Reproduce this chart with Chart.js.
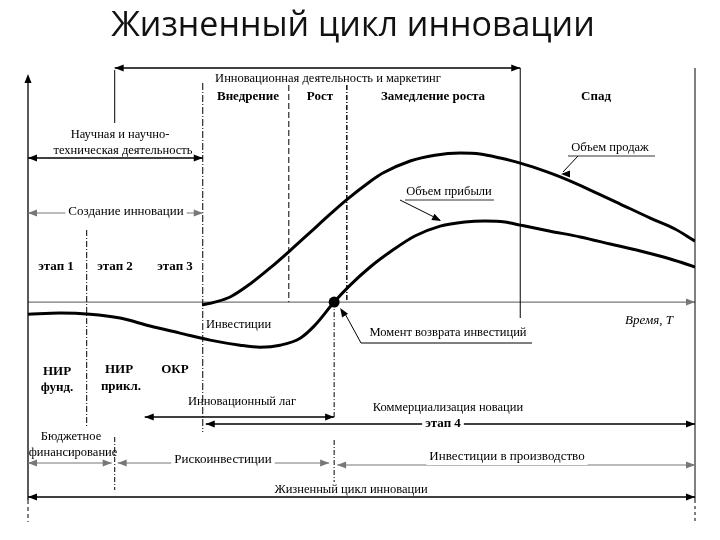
<!DOCTYPE html>
<html>
<head>
<meta charset="utf-8">
<script src="https://cdn.jsdelivr.net/npm/chart.js@4.4.1/dist/chart.umd.min.js"></script>
<style>
  html, body { margin: 0; padding: 0; background: #fff; }
  canvas { display: block; }
</style>
</head>
<body>
<canvas id="lifeCycle" width="720" height="540"></canvas>
<script>
// --- Data (time in % of the cycle, values in relative units, 0 = time axis) ---
const salesTime   = [26.1, 28.0, 30.3, 33.3, 36.3, 39.3, 42.3, 45.3, 47.8, 51.3, 53.2, 57.3, 61.0, 64.8, 67.8, 70.8, 73.8, 77.5, 79.8, 84.3, 88.8, 93.3, 97.0, 100];
const salesValue  = [-1.2, 0, 2.1, 7.5, 14.1, 21.3, 28.8, 36.3, 42.3, 49.8, 53.3, 58.3, 60.7, 61.6, 61.2, 59.5, 57.4, 54.1, 51.7, 46.3, 40.5, 34.7, 30.2, 25.2];
const profitTime  = [0, 4.8, 9.3, 13.8, 18.3, 22.8, 27.3, 31.8, 34.8, 37.8, 40.8, 43.0, 45.9, 48.3, 51.3, 54.7, 58.0, 61.8, 65.5, 68.5, 71.5, 73.8, 78.3, 82.8, 87.3, 91.8, 96.3, 100];
const profitValue = [-5.0, -4.5, -5.0, -6.6, -9.9, -12.8, -15.7, -17.8, -18.6, -17.8, -14.9, -9.6, 0, 7.0, 14.5, 21.5, 27.3, 31.4, 33.1, 33.5, 33.1, 31.8, 29.3, 26.9, 24.0, 21.1, 17.8, 14.5];

// stage boundaries on the time axis
const stageNames  = ['этап 1', 'этап 2', 'этап 3'];
const phaseNames  = ['Внедрение', 'Рост', 'Замедление роста', 'Спад'];
const bounds = { start: 0, st1: 8.8, mkt: 13.0, lag: 17.5, launch: 26.2, growth: 39.1, slow: 47.8, decline: 73.8, end: 100 };

const toPoints = (ts, vs) => ts.map((t, i) => ({ x: t, y: vs[i] }));

// --- helpers for the annotation layer ---
const SERIF = '"Liberation Serif", "DejaVu Serif", serif';

function head(ctx, x, y, dir, color) {
    ctx.save();
    ctx.fillStyle = color;
    ctx.beginPath();
    if (dir === 'r') { ctx.moveTo(x, y); ctx.lineTo(x - 9, y - 3.5); ctx.lineTo(x - 9, y + 3.5); }
    if (dir === 'l') { ctx.moveTo(x, y); ctx.lineTo(x + 9, y - 3.5); ctx.lineTo(x + 9, y + 3.5); }
    if (dir === 'u') { ctx.moveTo(x, y); ctx.lineTo(x - 3.5, y + 9); ctx.lineTo(x + 3.5, y + 9); }
    ctx.closePath();
    ctx.fill();
    ctx.restore();
}

function hArrow(ctx, x1, x2, y, opt = {}) {
    const color = opt.color || '#000';
    ctx.save();
    ctx.strokeStyle = color;
    ctx.lineWidth = opt.width || 1.2;
    ctx.beginPath();
    ctx.moveTo(x1, y);
    ctx.lineTo(x2, y);
    ctx.stroke();
    ctx.restore();
    if (opt.left) head(ctx, x1, y, 'l', color);
    if (opt.right) head(ctx, x2, y, 'r', color);
}

function vLine(ctx, x, y1, y2, dash, width) {
    ctx.save();
    ctx.strokeStyle = '#000';
    ctx.lineWidth = width || 1;
    ctx.setLineDash(dash || []);
    ctx.beginPath();
    ctx.moveTo(x, y1);
    ctx.lineTo(x, y2);
    ctx.stroke();
    ctx.restore();
}

function text(ctx, str, x, y, opt = {}) {
    ctx.save();
    ctx.font = (opt.style || '') + ' ' + (opt.weight || 'normal') + ' ' + (opt.size || 13) + 'px ' + (opt.family || SERIF);
    ctx.textAlign = opt.align || 'center';
    ctx.textBaseline = 'middle';
    if (opt.clear) {
        const w = ctx.measureText(str).width;
        const left = ctx.textAlign === 'center' ? x - w / 2 : x;
        ctx.fillStyle = '#fff';
        ctx.fillRect(left - 3, y - 8, w + 6, 16);
    }
    ctx.fillStyle = opt.color || '#000';
    ctx.fillText(str, x, y);
    ctx.restore();
}

const guides = {
    id: 'guides',
    beforeDatasetsDraw(chart) {
        const { ctx, scales: { x, y } } = chart;
        const X = t => x.getPixelForValue(t);
        const y0 = y.getPixelForValue(0);

        // time axis
        hArrow(ctx, X(bounds.start), X(bounds.end), y0, { color: '#777', width: 1.2, right: true });

        // frame verticals
        vLine(ctx, X(bounds.start), 78, 500, [], 1.3);
        vLine(ctx, X(bounds.start), 500, 522, [4, 3], 1);
        head(ctx, X(bounds.start), 74, 'u', '#000');
        vLine(ctx, X(bounds.end), 68, 500, [], 1);
        vLine(ctx, X(bounds.end), 500, 522, [3, 3], 1);

        // stage and phase boundaries
        vLine(ctx, X(bounds.st1), 230, 428, [6, 2, 1, 2]);
        vLine(ctx, X(bounds.mkt), 70, 123, []);
        vLine(ctx, X(bounds.mkt), 437, 490, [5, 2, 1, 2]);
        vLine(ctx, X(bounds.launch), 83, 432, [7, 2, 1, 2]);
        vLine(ctx, X(bounds.growth), 85, y0, [6, 3]);
        vLine(ctx, X(bounds.slow), 85, y0, [5, 2, 1, 2], 1.4);
        vLine(ctx, X(bounds.decline), 68, 318, [], 1);

        // payback moment verticals
        const pay = profitTime[profitValue.indexOf(0)];
        vLine(ctx, X(pay), y0, 418, [5, 2, 1, 2]);
        vLine(ctx, X(pay), 440, 482, [5, 2, 1, 2]);
    },
    afterDatasetsDraw(chart) {
        const { ctx, scales: { x, y } } = chart;
        const X = t => x.getPixelForValue(t);
        const y0 = y.getPixelForValue(0);

        // title
        text(ctx, 'Жизненный цикл инновации', 353, 26, { size: 34, family: '"Open Sans", Lato, sans-serif', weight: 'normal', color: '#111' });

        // top band
        hArrow(ctx, X(bounds.mkt), X(bounds.decline), 68, { left: true, right: true, width: 1.3 });
        text(ctx, 'Инновационная деятельность и маркетинг', 328, 79, { size: 12.5 });
        const phaseX = [248, 320, 433, 596];
        phaseNames.forEach((n, i) => text(ctx, n, phaseX[i], 97, { weight: 'bold', size: 13 }));

        text(ctx, 'Научная и научно-', 120, 135, { size: 12.5 });
        text(ctx, 'техническая деятельность', 123, 151, { size: 12.5 });
        hArrow(ctx, X(bounds.start), X(bounds.launch), 158, { left: true, right: true, width: 1.3 });

        hArrow(ctx, X(bounds.start), X(bounds.launch), 213, { left: true, right: true, color: '#777' });
        text(ctx, 'Создание инновации', 126, 212, { size: 13, clear: true });

        const stageX = [56, 115, 175];
        stageNames.forEach((n, i) => text(ctx, n, stageX[i], 267, { weight: 'bold', size: 13 }));

        // curve labels with leaders
        text(ctx, 'Объем продаж', 610, 148, { size: 12.5 });
        hArrow(ctx, 568, 655, 156, { width: 0.8 });
        ctx.save(); ctx.lineWidth = 1; ctx.beginPath(); ctx.moveTo(578, 156); ctx.lineTo(563, 172); ctx.stroke(); ctx.restore();
        head(ctx, 561, 174, 'l', '#000');

        text(ctx, 'Объем прибыли', 449, 192, { size: 12.5 });
        hArrow(ctx, 405, 494, 200, { width: 0.8 });
        ctx.save(); ctx.lineWidth = 1; ctx.beginPath(); ctx.moveTo(400, 200); ctx.lineTo(440, 220); ctx.stroke(); ctx.restore();
        ctx.save(); ctx.translate(441, 221); ctx.rotate(Math.atan2(20, 40)); head(ctx, 0, 0, 'r', '#000'); ctx.restore();

        // investments and payback point
        text(ctx, 'Инвестиции', 206, 325, { size: 12.5, align: 'left' });
        const pay = X(profitTime[profitValue.indexOf(0)]);
        ctx.save();
        ctx.fillStyle = '#000';
        ctx.beginPath(); ctx.arc(pay, y0, 5.5, 0, Math.PI * 2); ctx.fill();
        ctx.lineWidth = 1;
        ctx.beginPath(); ctx.moveTo(pay + 10, y0 + 10); ctx.lineTo(361, 343); ctx.lineTo(532, 343); ctx.stroke();
        ctx.translate(pay + 6, y0 + 6); ctx.rotate(Math.atan2(-1, -0.65)); head(ctx, 0, 0, 'r', '#000');
        ctx.restore();
        text(ctx, 'Момент возврата инвестиций', 448, 333, { size: 12.5 });
        text(ctx, 'Время, Т', 649, 321, { size: 13, style: 'italic' });

        // R&D labels
        text(ctx, 'НИР', 57, 372, { weight: 'bold' });
        text(ctx, 'фунд.', 57, 388, { weight: 'bold' });
        text(ctx, 'НИР', 119, 370, { weight: 'bold' });
        text(ctx, 'прикл.', 121, 387, { weight: 'bold' });
        text(ctx, 'ОКР', 175, 370, { weight: 'bold' });

        // lag and commercialisation
        text(ctx, 'Инновационный лаг', 242, 402, { size: 12.5 });
        hArrow(ctx, X(bounds.lag), pay, 417, { left: true, right: true, width: 1.3 });
        text(ctx, 'Коммерциализация новации', 448, 408, { size: 12.5 });
        hArrow(ctx, X(bounds.launch) + 3, X(bounds.end), 424, { left: true, right: true, width: 1.3 });
        text(ctx, 'этап 4', 443, 424, { weight: 'bold', size: 13, clear: true });

        // financing row
        text(ctx, 'Бюджетное', 71, 437, { size: 12.5 });
        text(ctx, 'финансирование', 73, 453, { size: 12.5 });
        hArrow(ctx, X(bounds.start), X(bounds.mkt) - 3, 463, { left: true, right: true, color: '#777' });
        hArrow(ctx, X(bounds.mkt) + 3, pay - 5, 463, { left: true, right: true, color: '#777' });
        text(ctx, 'Рискоинвестиции', 223, 460, { size: 13, clear: true });
        hArrow(ctx, pay + 3, X(bounds.end), 465, { left: true, right: true, color: '#777' });
        text(ctx, 'Инвестиции в производство', 507, 457, { size: 13, clear: true });

        // whole cycle
        hArrow(ctx, X(bounds.start), X(bounds.end), 497, { left: true, right: true, width: 1.4 });
        text(ctx, 'Жизненный цикл инновации', 351, 490, { size: 12.5 });
    }
};

document.addEventListener('DOMContentLoaded', () => {
    const ctx = document.getElementById('lifeCycle').getContext('2d');
    new Chart(ctx, {
        type: 'line',
        data: {
            datasets: [
                { label: 'Объем продаж', data: toPoints(salesTime, salesValue), borderColor: '#000', borderWidth: 3, pointRadius: 0, cubicInterpolationMode: 'monotone', fill: false },
                { label: 'Объем прибыли', data: toPoints(profitTime, profitValue), borderColor: '#000', borderWidth: 3, pointRadius: 0, cubicInterpolationMode: 'monotone', fill: false }
            ]
        },
        options: {
            responsive: false,
            animation: false,
            layout: { padding: { left: 28, right: 25, top: 60, bottom: 20 } },
            plugins: { legend: { display: false }, tooltip: { enabled: false }, title: { display: false } },
            scales: {
                x: { type: 'linear', min: 0, max: 100, display: false },
                y: { type: 'linear', min: -90, max: 100, display: false }
            }
        },
        plugins: [guides]
    });
});
</script>
</body>
</html>
